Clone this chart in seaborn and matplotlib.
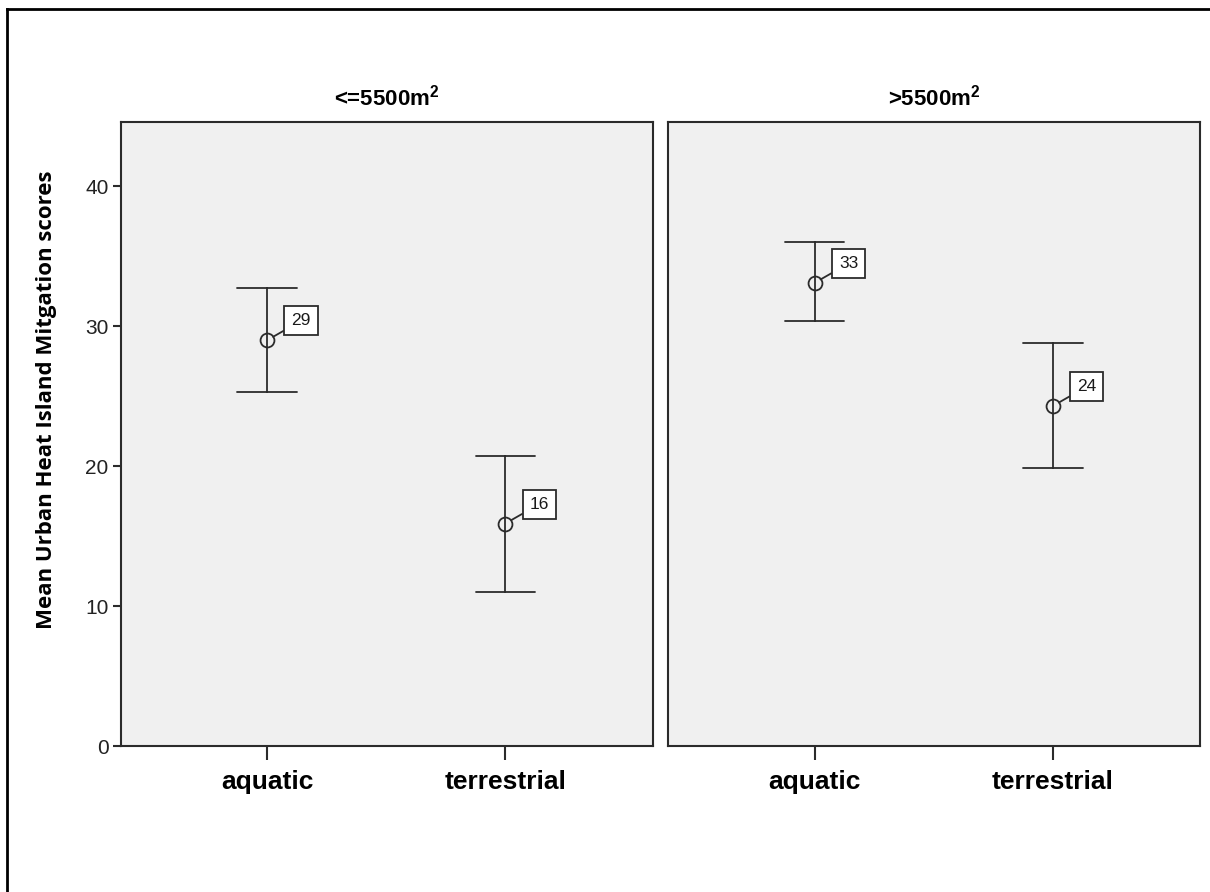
import numpy as np
import pandas as pd
import seaborn as sns
import matplotlib.pyplot as plt
from matplotlib.lines import Line2D

# Mean scores with 95% CI bounds, per site size and habitat type
areas = ["<=5500m$^{\\mathregular{2}}$", ">5500m$^{\\mathregular{2}}$"]
habitats = ["aquatic", "terrestrial"]
mean_small = [29.0, 15.9]
lower_small = [25.3, 11.0]
upper_small = [32.7, 20.7]
mean_large = [33.1, 24.3]
lower_large = [30.4, 19.9]
upper_large = [36.0, 28.8]
y_ticks = [0, 10, 20, 30, 40]

means = {areas[0]: mean_small, areas[1]: mean_large}
lowers = {areas[0]: lower_small, areas[1]: lower_large}
uppers = {areas[0]: upper_small, areas[1]: upper_large}

# Long table: the median of (lower, mean, upper) is the mean and the
# full percentile interval spans the CI bounds.
rows = []
for a in areas:
    for i, h in enumerate(habitats):
        for v in (lowers[a][i], means[a][i], uppers[a][i]):
            rows.append({"area": a, "habitat": h, "score": v})
df = pd.DataFrame(rows)

sns.set_theme(style="ticks")
plt.rcParams["font.family"] = ["Liberation Sans", "DejaVu Sans"]
plt.rcParams["mathtext.fontset"] = "custom"
plt.rcParams["mathtext.rm"] = "Liberation Sans"

INK = "#2b2b2b"
W, H = 1210, 892

g = sns.catplot(
    data=df, x="habitat", y="score", col="area",
    order=habitats, col_order=areas,
    kind="point", estimator="median", errorbar=("pi", 100),
    capsize=0.25, color=INK, markers="o", linestyles="none",
    err_kws={"linewidth": 1.3, "color": INK},
    markersize=10, markeredgewidth=1.3,
    height=6, aspect=1, sharey=True,
)
fig = g.figure
fig.set_size_inches(W / 100, H / 100)
fig.set_dpi(100)
fig.subplots_adjust(left=121 / W, right=1200 / W,
                    top=1 - 122 / H, bottom=1 - 746 / H, wspace=0.03)

g.set_titles("{col_name}", fontweight="bold", size=16, pad=12, color="black")
g.set_axis_labels("", "")

for k, ax in enumerate(g.axes.flat):
    a = areas[k]
    ax.set_facecolor("#f0f0f0")
    for sp in ax.spines.values():
        sp.set_visible(True)
        sp.set_color(INK)
        sp.set_linewidth(1.5)
    ax.set_xlim(-0.613, 1.618)
    ax.set_ylim(0, 44.6)
    ax.set_yticks(y_ticks)
    for line in ax.lines:
        if line.get_marker() == "o":
            line.set_markerfacecolor("none")
            line.set_zorder(5)
    ax.tick_params(axis="x", length=10, width=1.5, color=INK, pad=7,
                   labelsize=19)
    for lab in ax.get_xticklabels():
        lab.set_fontweight("bold")
        lab.set_color("black")
    if k == 0:
        ax.tick_params(axis="y", length=6, width=1.5, color=INK, pad=3,
                       labelsize=15, labelcolor="#222222")
    else:
        ax.tick_params(axis="y", left=False, labelleft=False)
    for i, h in enumerate(habitats):
        m = means[a][i]
        ax.annotate(
            f"{m:.0f}", xy=(i, m), xytext=(24.5, 14), textcoords="offset points",
            ha="center", va="center", fontsize=12.5, color="#1a1a1a",
            bbox=dict(boxstyle="square,pad=0.4", fc="white", ec=INK, lw=1.3),
            arrowprops=dict(arrowstyle="-", color=INK, lw=1.3,
                            shrinkA=0, shrinkB=5),
            zorder=6,
        )

fig.text(47 / W, 1 - 400 / H, "Mean Urban Heat Island Mitgation scores",
         rotation=90, ha="center", va="center", fontsize=16,
         fontweight="bold", color="black", family=["Open Sans", "DejaVu Sans"])

# Outer frame on the left and top edges
bx, by = 7 / W, 1 - 9 / H
fig.add_artist(Line2D([bx, bx], [0, by], transform=fig.transFigure,
                      color="black", lw=2, solid_capstyle="projecting"))
fig.add_artist(Line2D([bx, 1], [by, by], transform=fig.transFigure,
                      color="black", lw=2, solid_capstyle="projecting"))

fig.savefig("out.png", dpi=100, facecolor="white")
